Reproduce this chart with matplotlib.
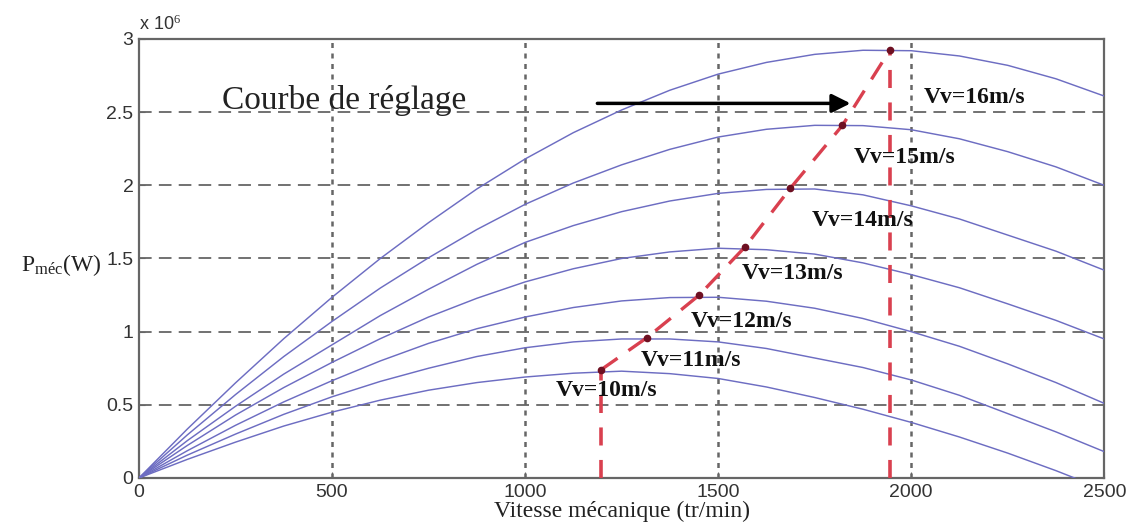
import matplotlib
matplotlib.use("Agg")
import matplotlib.pyplot as plt

# vitesse mécanique (tr/min) et puissance (x 1e6 W)
vitesse = [0, 125, 250, 375, 500, 625, 750, 875, 1000, 1125, 1250,
           1375, 1500, 1625, 1750, 1875, 2000, 2125, 2250, 2375, 2500]
courbes = {
    16: [0, 0.334, 0.65, 0.952, 1.235, 1.50, 1.745, 1.975, 2.18, 2.36, 2.515,
         2.65, 2.76, 2.84, 2.895, 2.923, 2.92, 2.884, 2.82, 2.728, 2.61],
    15: [0, 0.294, 0.57, 0.83, 1.07, 1.298, 1.505, 1.698, 1.87, 2.016, 2.14,
         2.246, 2.33, 2.383, 2.41, 2.408, 2.38, 2.318, 2.23, 2.126, 2.00],
    14: [0, 0.255, 0.49, 0.71, 0.91, 1.11, 1.29, 1.46, 1.61, 1.725, 1.82,
         1.893, 1.945, 1.972, 1.975, 1.935, 1.86, 1.77, 1.66, 1.55, 1.42],
    13: [0, 0.222, 0.43, 0.618, 0.79, 0.952, 1.10, 1.228, 1.34, 1.43, 1.50,
         1.545, 1.57, 1.56, 1.53, 1.47, 1.39, 1.30, 1.19, 1.077, 0.95],
    12: [0, 0.186, 0.36, 0.52, 0.665, 0.80, 0.92, 1.02, 1.10, 1.165, 1.21,
         1.233, 1.235, 1.208, 1.16, 1.09, 1.00, 0.90, 0.78, 0.652, 0.51],
    11: [0, 0.156, 0.30, 0.435, 0.555, 0.66, 0.75, 0.83, 0.89, 0.93, 0.95,
         0.95, 0.93, 0.885, 0.82, 0.755, 0.67, 0.565, 0.44, 0.315, 0.18],
    10: [0, 0.127, 0.245, 0.355, 0.45, 0.532, 0.60, 0.652, 0.69, 0.716, 0.73,
         0.713, 0.68, 0.622, 0.55, 0.47, 0.38, 0.28, 0.17, 0.05, -0.08],
}

# points optimaux (courbe de réglage)
opt_vitesse = [1197, 1316, 1451, 1570, 1687, 1822, 1945]
opt_puissance = [0.74, 0.96, 1.25, 1.58, 1.98, 2.41, 2.925]

# position des étiquettes Vv
etiq_x = {16: 2033, 15: 1851, 14: 1742, 13: 1560, 12: 1430, 11: 1300, 10: 1080}
etiq_y = {16: 2.60, 15: 2.19, 14: 1.76, 13: 1.40, 12: 1.07, 11: 0.80, 10: 0.60}

plt.rcParams['mathtext.fontset'] = 'custom'
plt.rcParams['mathtext.rm'] = 'Liberation Serif'
plt.rcParams['mathtext.it'] = 'Liberation Serif:italic'
plt.rcParams['mathtext.bf'] = 'Liberation Serif:bold'

fig = plt.figure(figsize=(11.43, 5.27), dpi=100)
ax = fig.add_axes([0.1216, 0.093, 0.8445, 0.833])

for v, p in courbes.items():
    ax.plot(vitesse, p, color='#6d6dc2', lw=1.05, zorder=3)

# courbe de réglage
ax.plot(opt_vitesse, opt_puissance, color='#d9404f', lw=2.4,
        dashes=(6, 4), zorder=4)
ax.plot([opt_vitesse[0], opt_vitesse[0]], [0, opt_puissance[0]],
        color='#d9404f', lw=2.6, dashes=(5, 4), zorder=4)
ax.plot([opt_vitesse[-1], opt_vitesse[-1]], [0, opt_puissance[-1]],
        color='#d9404f', lw=2.6, dashes=(5, 4), zorder=4)
ax.plot(opt_vitesse, opt_puissance, 'o', color='#6e1022', ms=4.5, zorder=5)

for v in courbes:
    ax.text(etiq_x[v], etiq_y[v], 'Vv=%dm/s' % v, family='Liberation Serif',
            fontweight='bold', fontsize=17, va='center', ha='left',
            color='#111111', zorder=6)

ax.text(215, 2.58, 'Courbe de réglage', family='Liberation Serif',
        fontsize=24, va='center', ha='left', color='#222222')
ax.annotate('', xy=(1850, 2.56), xytext=(1180, 2.56),
            arrowprops=dict(arrowstyle='-|>', color='black', lw=2.5,
                            mutation_scale=28))

ax.set_xlim(0, 2500)
ax.set_ylim(0, 3)
ax.set_xticks([0, 500, 1000, 1500, 2000, 2500])
ax.set_yticks([0, 0.5, 1, 1.5, 2, 2.5, 3])
ax.set_yticklabels(['0', '0.5', '1', '1.5', '2', '2.5', '3'])

for xv in [500, 1000, 1500, 2000]:
    ax.axvline(xv, color='#666666', lw=1.8, dashes=(2, 2.2), zorder=1)
for yv in [0.5, 1, 1.5, 2, 2.5]:
    ax.axhline(yv, color='#666666', lw=1.3, dashes=(7, 4), zorder=1)

for s in ax.spines.values():
    s.set_color('#666666')
    s.set_linewidth(1.6)
ax.tick_params(direction='in', length=4, color='#666666', labelsize=14,
               labelcolor='#333333', pad=4)
for lab in ax.get_xticklabels() + ax.get_yticklabels():
    lab.set_family('Liberation Sans')

ax.text(0.0, 1.012, r'x 10$^6$', transform=ax.transAxes, fontsize=13,
        family='Liberation Sans', color='#333333', va='bottom', ha='left')

ax.set_xlabel('Vitesse mécanique (tr/min)', family='Liberation Serif',
              fontsize=17, labelpad=0, color='#222222')
fig.text(0.018, 0.497, r'P$_{\rm méc}$(W)', fontsize=17,
         family='Liberation Serif', va='center', ha='left', color='#222222')

fig.savefig('out.png', dpi=100)
